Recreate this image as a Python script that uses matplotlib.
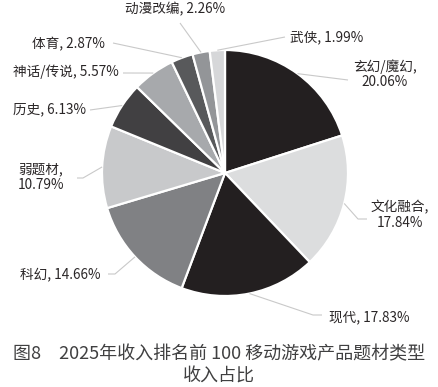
import numpy as np
import matplotlib
matplotlib.use("Agg")
import matplotlib.pyplot as plt

plt.rcParams['font.family'] = ['Noto Sans CJK SC', 'DejaVu Sans']

# data (clockwise from 12 o'clock)
genres = ["玄幻/魔幻", "文化融合", "现代", "科幻", "弱题材", "历史",
          "神话/传说", "体育", "动漫改编", "武侠"]
shares = [20.06, 17.84, 17.83, 14.66, 10.79, 6.13, 5.57, 2.87, 2.26, 1.99]
colors = ["#231f20", "#dcddde", "#231f20", "#808184", "#c8c9cb", "#414042",
          "#a7a9ac", "#58595b", "#939598", "#d6d7d9"]

W, H = 438, 387
cx, cy, R = 225, 173, 123   # pixel layout, y from top


def P(x, y):
    return x, H - y


fig = plt.figure(figsize=(W / 100, H / 100), dpi=100)
ax = fig.add_axes([0, 0, 1, 1])
wedges, _ = ax.pie(shares, colors=colors, startangle=90, counterclock=False,
                   center=P(cx, cy), radius=R,
                   wedgeprops=dict(edgecolor="white", linewidth=1.6))
ax.set_xlim(0, W)
ax.set_ylim(0, H)
ax.set_aspect("equal")
ax.axis("off")

# label layout: (leader points after the wedge edge, text x, text y, ha, line break)
layout = {
    "玄幻/魔幻": ([(348, 80)], 385, 74, "center", True),
    "文化融合": ([(358, 219), (367, 219)], 400, 215, "center", True),
    "现代": ([(313, 315), (322, 315)], 329, 317, "left", False),
    "科幻": ([(115, 274), (108, 274)], 100, 275, "right", False),
    "弱题材": ([(83, 178), (77, 178)], 41, 177, "center", True),
    "历史": ([(90, 110)], 86, 109, "right", False),
    "神话/传说": ([(123, 73)], 119, 72, "right", False),
    "体育": ([(113, 43)], 105, 44, "right", False),
    "动漫改编": ([(180, 23)], 175, 9, "center", False),
    "武侠": ([(285, 37)], 290, 37, "left", False),
}

cum = np.cumsum([0] + shares[:-1])
for name, s, c0 in zip(genres, shares, cum):
    ang = np.deg2rad(90 - 360 * (c0 + s / 2) / 100)
    sx = cx + R * 1.0 * np.cos(ang)
    sy = cy - R * 1.0 * np.sin(ang)
    pts, tx, ty, ha, br = layout[name]
    xs = [sx] + [p[0] for p in pts]
    ys = [H - sy] + [H - p[1] for p in pts]
    ax.plot(xs, ys, color="#c9c9c9", lw=0.8, solid_capstyle="butt")
    txt = f"{name},\n{s:.2f}%" if br else f"{name}, {s:.2f}%"
    ax.text(*P(tx, ty), txt, ha=ha, va="center", fontsize=9.8,
            color="#2a2627", linespacing=1.1)

fig.text(0.5, 1 - 354 / H, "图8　2025年收入排名前 100 移动游戏产品题材类型",
         ha="center", va="center", fontsize=13, color="#404041")
fig.text(0.5, 1 - 377 / H, "收入占比",
         ha="center", va="center", fontsize=13, color="#404041")

fig.savefig("out.png", dpi=100)
